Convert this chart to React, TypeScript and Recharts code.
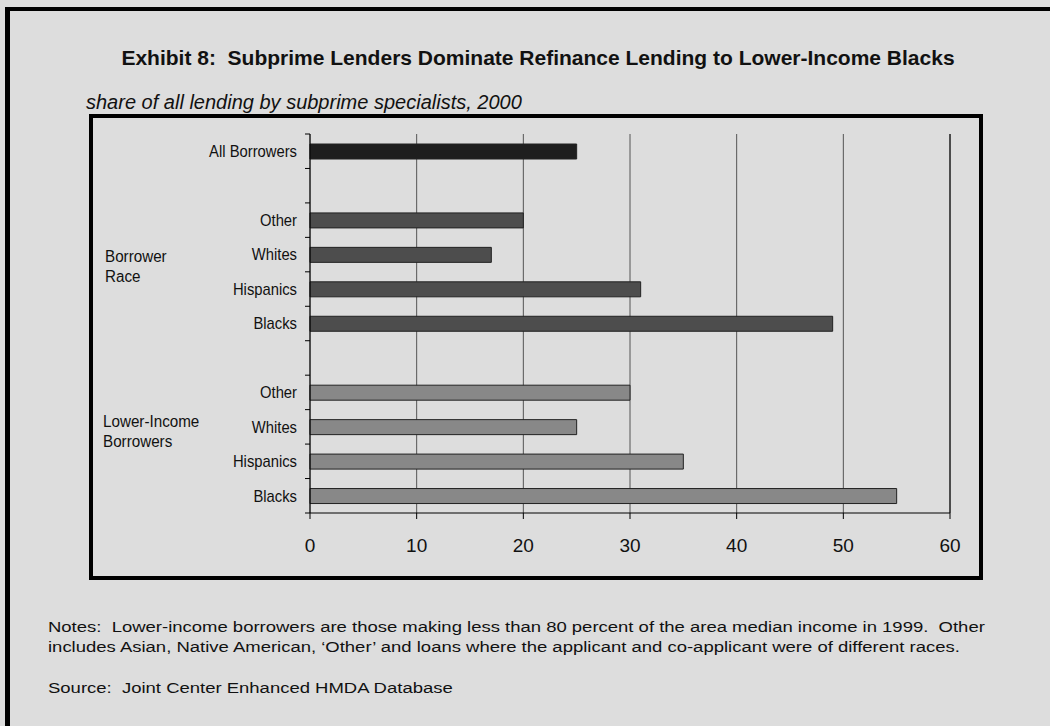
import { Bar, BarChart, CartesianGrid, Cell, ReferenceLine, XAxis, YAxis } from "recharts"

// one slot per row, top to bottom; blank slots are the gaps between groups
const slotKeys = ["all", "gap1", "race-other", "race-white", "race-hisp", "race-black", "gap2", "low-other", "low-white", "low-hisp", "low-black"]
const slotLabels = ["All Borrowers", "", "Other", "Whites", "Hispanics", "Blacks", "", "Other", "Whites", "Hispanics", "Blacks"]
const slotGroups = ["all", "", "race", "race", "race", "race", "", "low", "low", "low", "low"]
const subprimeShare = [25, null, 20, 17, 31, 49, null, 30, 25, 35, 55]
const xTicks = [0, 10, 20, 30, 40, 50, 60]

const groupFill: Record<string, string> = {
  all: "#1e1e1e",
  race: "#4d4d4d",
  low: "#888888",
}

const data = slotKeys.map((key, i) => ({ key, share: subprimeShare[i], group: slotGroups[i] }))

const W = 1050
const H = 726
const PLOT_TOP = 134
const PLOT_BOTTOM = 513
const PLOT_LEFT = 310
const PLOT_RIGHT = 950
const X_AXIS_H = 40
const font = "'Liberation Sans', Arial, sans-serif"

function CategoryTick(props: any) {
  const { x, y, index } = props
  const step = (PLOT_BOTTOM - PLOT_TOP) / slotKeys.length
  const last = index === slotKeys.length - 1
  return (
    <g>
      <g transform={`translate(${x - 13},${y}) scale(0.87,1)`}>
        <text x={0} y={0} textAnchor="end" dominantBaseline="central" fontSize={17} fill="#111" fontFamily={font}>
          {slotLabels[index]}
        </text>
      </g>
      <line x1={x - 5} x2={x} y1={y - step / 2} y2={y - step / 2} stroke="#000" />
      {last && <line x1={x - 5} x2={x} y1={y + step / 2} y2={y + step / 2} stroke="#000" />}
    </g>
  )
}

const abs = (left: number, top: number, extra: any = {}) => ({ position: "absolute" as const, left, top, ...extra })
const squeeze = (sx: number) => ({ transform: `scaleX(${sx})`, transformOrigin: "0 0", whiteSpace: "nowrap" as const })

export default function App() {
  return (
    <div style={{ position: "absolute", left: 0, top: 0, width: W, height: H, background: "#dddddd", overflow: "hidden", fontFamily: font, color: "#111" }}>
      <div style={abs(5, 7, { width: W, height: H, borderLeft: "5px solid #000", borderTop: "4px solid #000" })} />
      <div style={abs(89, 114, { width: 894, height: 466, border: "4px solid #000", boxSizing: "border-box" })} />

      <div style={abs(0, 46, { width: 1076, textAlign: "center", fontWeight: "bold", fontSize: 21 })}>
        Exhibit 8:&nbsp; Subprime Lenders Dominate Refinance Lending to Lower-Income Blacks
      </div>
      <div style={abs(86, 91, { fontStyle: "italic", fontSize: 20 })}>share of all lending by subprime specialists, 2000</div>

      <div style={abs(105, 247, { fontSize: 16, lineHeight: "20px", ...squeeze(0.95) })}>Borrower<br />Race</div>
      <div style={abs(103, 412, { fontSize: 16, lineHeight: "20px", ...squeeze(0.95) })}>Lower-Income<br />Borrowers</div>

      <div style={abs(0, 0)}>
        <BarChart
          width={W}
          height={H}
          data={data}
          layout="vertical"
          barSize={15}
          margin={{ top: PLOT_TOP, right: W - PLOT_RIGHT, bottom: H - PLOT_BOTTOM - X_AXIS_H, left: 0 }}
        >
          <CartesianGrid horizontal={false} stroke="#555" />
          <XAxis
            type="number"
            domain={[0, 60]}
            ticks={xTicks}
            height={X_AXIS_H}
            tickSize={6}
            tickMargin={20}
            axisLine={{ stroke: "#000" }}
            tickLine={{ stroke: "#000" }}
            tick={{ fontSize: 19, fill: "#111", fontFamily: font }}
          />
          <XAxis
            xAxisId="top"
            orientation="top"
            type="number"
            domain={[0, 60]}
            height={0}
            tick={false}
            tickLine={false}
            axisLine={{ stroke: "#000" }}
          />
          <YAxis
            type="category"
            dataKey="key"
            width={PLOT_LEFT}
            tickSize={0}
            tickMargin={0}
            axisLine={{ stroke: "#000" }}
            tickLine={false}
            tick={<CategoryTick />}
            interval={0}
          />
          <ReferenceLine x={60} stroke="#000" />
          <Bar dataKey="share" stroke="#222" strokeWidth={1} isAnimationActive={false}>
            {data.map((d) => (
              <Cell key={d.key} fill={groupFill[d.group] ?? "#888"} />
            ))}
          </Bar>
        </BarChart>
      </div>

      <div style={abs(48, 617, { fontSize: 14, lineHeight: "20px", ...squeeze(1.32) })}>
        Notes:&nbsp; Lower-income borrowers are those making less than 80 percent of the area median income in 1999.&nbsp; Other
        <br />
        includes Asian, Native American, ‘Other’ and loans where the applicant and co-applicant were of different races.
      </div>
      <div style={abs(48, 678, { fontSize: 14, lineHeight: "20px", ...squeeze(1.32) })}>Source:&nbsp; Joint Center Enhanced HMDA Database</div>
    </div>
  )
}
